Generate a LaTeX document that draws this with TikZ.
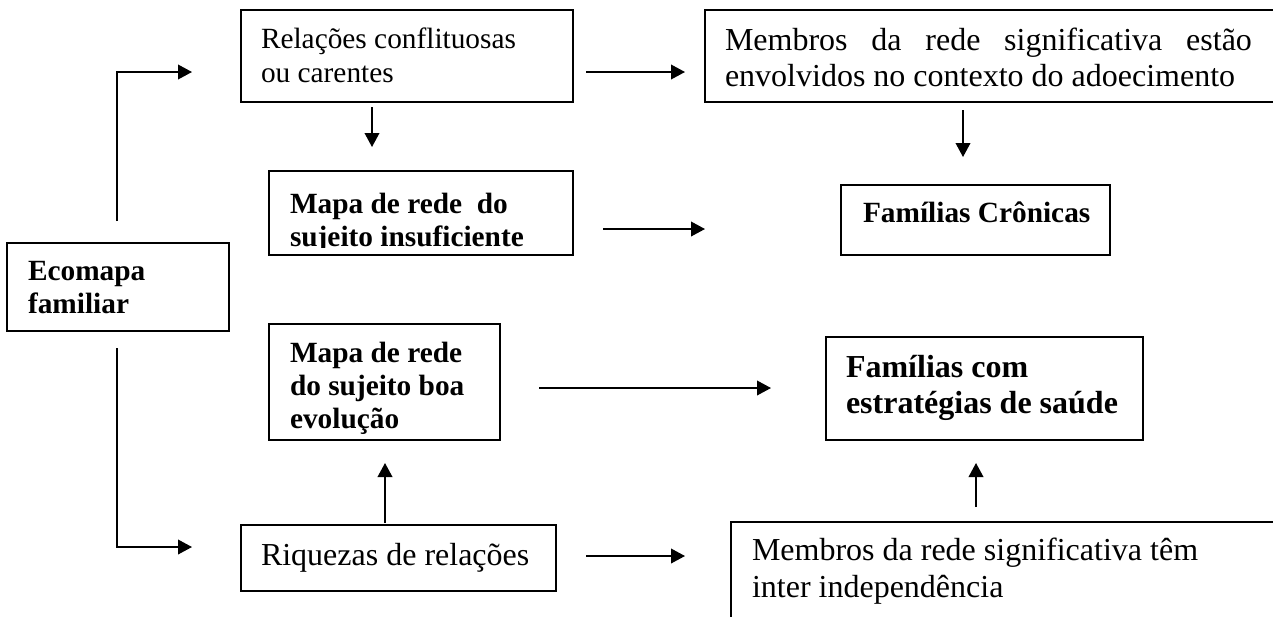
\documentclass[tikz,border=0pt]{standalone}
\usepackage{fontspec}
\setmainfont{Liberation Serif}
\usetikzlibrary{arrows.meta,fit}
\newcommand{\szA}{\fontsize{11}{12.65}\selectfont}
\newcommand{\szB}{\fontsize{12}{13.8}\selectfont}
\begin{document}
\begin{tikzpicture}[x=0.375pt,y=-0.375pt,
  box/.style={draw=black,line width=0.75pt,inner sep=0pt},
  txt/.style={anchor=base west,inner sep=0pt,outer sep=0pt},
  arr/.style={line width=0.6pt,-{Triangle[length=5.25pt,width=5.5pt]}}]
\useasboundingbox (0,0) rectangle (1273,616);
\clip (0,0) rectangle (1273,616);
% boxes
\node[box,fit={(241,10) (573,102)}] (rel) {};
\node[box,fit={(705,10) (1290,102)}] (mest) {};
\node[box,fit={(269,171) (573,255)}] (mins) {};
\node[box,fit={(841,185) (1110,255)}] (fcr) {};
\node[box,fit={(7,243) (229,331)}] (eco) {};
\node[box,fit={(269,324) (500,440)}] (mboa) {};
\node[box,fit={(826,337) (1143,440)}] (fcom) {};
\node[box,fit={(241,525) (556,591)}] (riq) {};
\node[box,fit={(731,522) (1290,640)}] (mtem) {};
% texts
\node[txt] (relT1) at (261,48) {\szA Relações conflituosas};
\node[txt] (relT2) at (261,82) {\szA ou carentes};
\node[txt] (mestT1) at (725,50) {\szB\makebox[197.6pt][s]{Membros da rede significativa estão}};
\node[txt] (mestT2) at (725,86) {\szB envolvidos no contexto do adoecimento};
\node[txt] (minsT1) at (290,213) {\szA\bfseries Mapa de rede~ do};
\begin{scope}
\clip (269,171) rectangle (573,247);
\node[txt] (minsT2) at (290,246) {\szA\bfseries sujeito insuficiente};
\end{scope}
\node[txt] (fcrT) at (863,222) {\szA\bfseries Famílias Crônicas};
\node[txt] (ecoT1) at (28,280) {\szA\bfseries Ecomapa};
\node[txt] (ecoT2) at (28,313) {\szA\bfseries familiar};
\node[txt] (mboaT1) at (290,362) {\szA\bfseries Mapa de rede};
\node[txt] (mboaT2) at (290,395) {\szA\bfseries do sujeito boa};
\node[txt] (mboaT3) at (290,428) {\szA\bfseries evolução};
\node[txt] (fcomT1) at (846,377) {\szB\bfseries Famílias com};
\node[txt] (fcomT2) at (846,413) {\szB\bfseries estratégias de saúde};
\node[txt] (riqT) at (261,565) {\szB Riquezas de relações};
\node[txt] (mtemT1) at (752,560) {\szB Membros da rede significativa têm};
\node[txt] (mtemT2) at (752,597) {\szB inter independência};
% connector ends
\coordinate (ecoU) at (117,221);
\coordinate (relIn) at (192,72);
\coordinate (ecoD) at (117,348);
\coordinate (riqIn) at (192,547);
\coordinate (relR) at (586,72);
\coordinate (mestIn) at (685,72);
\coordinate (relD) at (372,107);
\coordinate (minsIn) at (372,147);
\coordinate (mestD) at (963,110);
\coordinate (fcrIn) at (963,157);
\coordinate (minsR) at (603,229);
\coordinate (fcrL) at (705,229);
\coordinate (mboaR) at (539,388);
\coordinate (fcomL) at (771,388);
\coordinate (riqU) at (385,523);
\coordinate (mboaIn) at (385,463);
\coordinate (riqR) at (586,556);
\coordinate (mtemL) at (685,556);
\coordinate (mtemU) at (976,507);
\coordinate (fcomIn) at (976,463);
% connectors
\draw[arr] (ecoU) |- (relIn);
\draw[arr] (ecoD) |- (riqIn);
\draw[arr] (relR) -- (mestIn);
\draw[arr] (relD) -- (minsIn);
\draw[arr] (mestD) -- (fcrIn);
\draw[arr] (minsR) -- (fcrL);
\draw[arr] (mboaR) -- (fcomL);
\draw[arr] (riqU) -- (mboaIn);
\draw[arr] (riqR) -- (mtemL);
\draw[arr] (mtemU) -- (fcomIn);
\end{tikzpicture}
\end{document}
